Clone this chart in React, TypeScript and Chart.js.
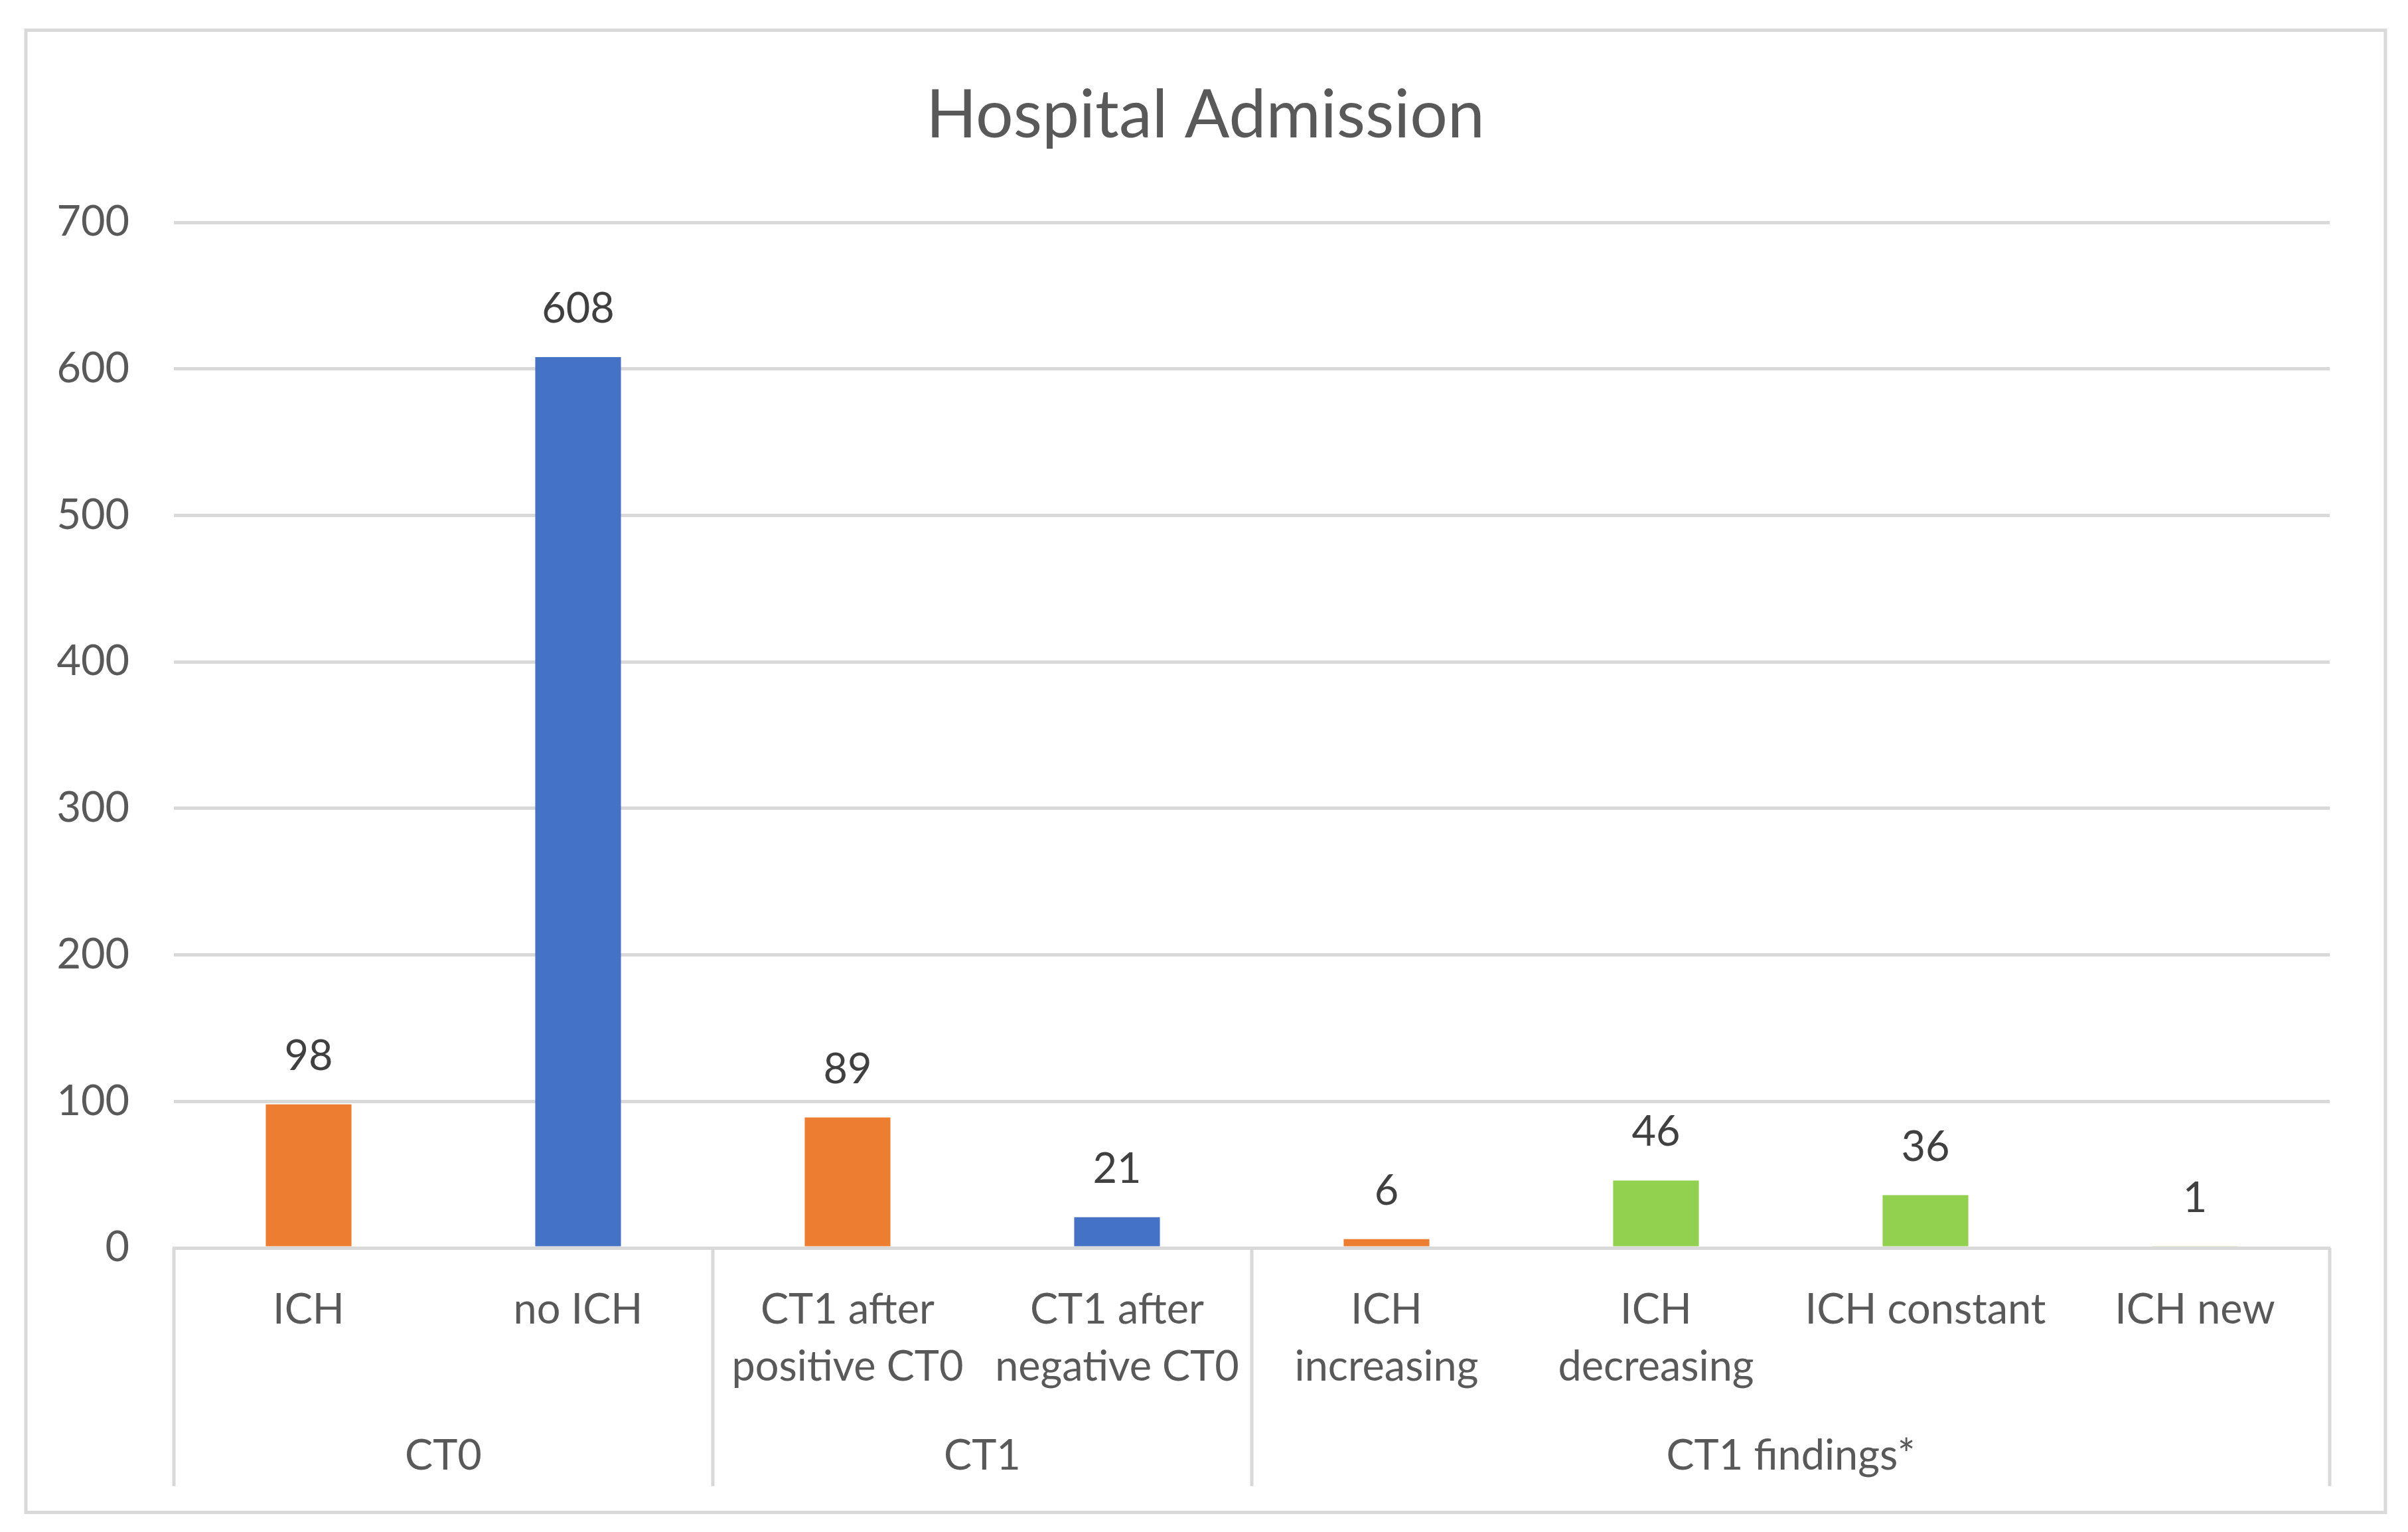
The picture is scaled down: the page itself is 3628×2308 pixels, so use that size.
import React, { useEffect, useRef } from "react";
import { Chart, registerables } from "chart.js";

Chart.register(...registerables);

const chartTitle = "Hospital Admission";
const categories: string[][] = [
  ["ICH"],
  ["no ICH"],
  ["CT1 after", "positive CT0"],
  ["CT1 after", "negative CT0"],
  ["ICH", "increasing"],
  ["ICH", "decreasing"],
  ["ICH constant"],
  ["ICH new"],
];
const values: number[] = [98, 608, 89, 21, 6, 46, 36, 1];
const barColors: string[] = [
  "#ED7D31",
  "#4472C4",
  "#ED7D31",
  "#4472C4",
  "#ED7D31",
  "#92D050",
  "#92D050",
  "#92D050",
];
const groupLabels: string[] = ["CT0", "CT1", "CT1 findings*"];
const groupSizes: number[] = [2, 2, 4];
const yMin = 0;
const yMax = 700;
const yStep = 100;

const W = 3628;
const H = 2308;
const FONT = "Lato, 'Open Sans', sans-serif";
const GRID = "#D9D9D9";
const TEXT = "#595959";
const LABEL = "#404040";

const decorPlugin = {
  id: "decor",
  beforeDraw(chart: any) {
    const ctx = chart.ctx;
    ctx.save();
    ctx.fillStyle = "#ffffff";
    ctx.fillRect(0, 0, chart.width, chart.height);
    ctx.strokeStyle = GRID;
    ctx.lineWidth = 5;
    ctx.strokeRect(39, 45.5, 3555, 2233);
    ctx.fillStyle = TEXT;
    ctx.font = `100px ${FONT}`;
    ctx.textAlign = "center";
    ctx.textBaseline = "alphabetic";
    ctx.fillText(chartTitle, 1816, 207);
    ctx.restore();
  },
  afterDraw(chart: any) {
    const ctx = chart.ctx;
    const xs = chart.scales.x;
    const area = chart.chartArea;
    const bounds: number[] = [0];
    let acc = 0;
    groupSizes.forEach((s) => {
      acc += s;
      bounds.push(acc);
    });
    ctx.save();
    ctx.strokeStyle = GRID;
    ctx.lineWidth = 5;
    bounds.forEach((b) => {
      const px = xs.getPixelForValue(b - 0.5);
      ctx.beginPath();
      ctx.moveTo(px, area.bottom);
      ctx.lineTo(px, 2239);
      ctx.stroke();
    });
    ctx.fillStyle = TEXT;
    ctx.font = `63px ${FONT}`;
    ctx.textAlign = "center";
    ctx.textBaseline = "alphabetic";
    for (let g = 0; g < groupLabels.length; g++) {
      const a = xs.getPixelForValue(bounds[g] - 0.5);
      const b = xs.getPixelForValue(bounds[g + 1] - 0.5);
      ctx.fillText(groupLabels[g], (a + b) / 2, 2214);
    }
    const meta = chart.getDatasetMeta(0);
    ctx.fillStyle = LABEL;
    meta.data.forEach((el: any, i: number) => {
      ctx.fillText(String(values[i]), el.x, el.y - 52);
    });
    ctx.restore();
  },
};

export default function App() {
  const ref = useRef<HTMLCanvasElement | null>(null);
  useEffect(() => {
    document.body.style.margin = "0";
    if (!ref.current) return;
    const chart = new Chart(ref.current, {
      type: "bar",
      data: {
        labels: categories,
        datasets: [
          {
            data: values,
            backgroundColor: barColors,
            borderWidth: 0,
            barPercentage: 0.318,
            categoryPercentage: 1,
          },
        ],
      },
      options: {
        responsive: false,
        animation: false,
        devicePixelRatio: 1,
        layout: { padding: { top: 335, left: 0, right: 118, bottom: 0 } },
        plugins: {
          legend: { display: false },
          title: { display: false },
          tooltip: { enabled: false },
        },
        scales: {
          x: {
            grid: { display: false, drawTicks: false },
            border: { display: true, color: GRID, width: 5, z: 1 },
            ticks: {
              color: TEXT,
              font: { family: FONT, size: 63, lineHeight: 1.365 },
              padding: 51,
              maxRotation: 0,
              minRotation: 0,
              autoSkip: false,
            },
            afterFit: (scale: any) => {
              scale.height = H - 1880;
            },
          },
          y: {
            min: yMin,
            max: yMax,
            grid: { color: GRID, lineWidth: 5, drawTicks: false },
            border: { display: false },
            ticks: {
              stepSize: yStep,
              color: TEXT,
              font: { family: FONT, size: 63 },
              padding: 67,
            },
            afterFit: (scale: any) => {
              scale.width = 262;
            },
          },
        },
      },
      plugins: [decorPlugin],
    });
    return () => chart.destroy();
  }, []);
  return (
    <div style={{ width: W, height: H }}>
      <canvas ref={ref} width={W} height={H} style={{ display: "block" }} />
    </div>
  );
}
